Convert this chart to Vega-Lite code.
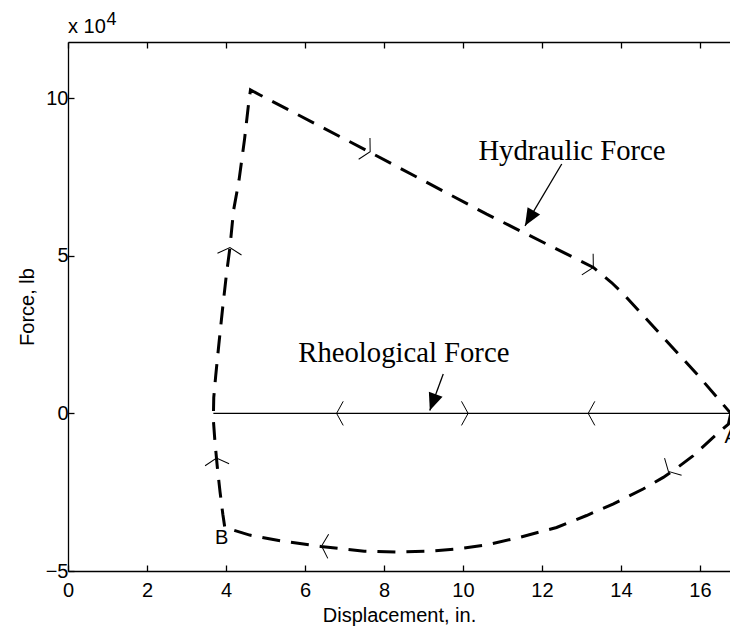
{
  "$schema": "https://vega.github.io/schema/vega-lite/v6.json",
  "width": 662,
  "height": 529,
  "autosize": "none",
  "padding": {"left": 68, "top": 42, "right": 0, "bottom": 57},
  "config": {"view": {"stroke": null}, "font": "Liberation Sans"},
  "datasets": {
    "hyd": [
      {"i": 1, "x": 16.78, "y": 0.0}, {"i": 2, "x": 16.72, "y": -0.34}, {"i": 3, "x": 16.3, "y": -0.8},
      {"i": 4, "x": 15.83, "y": -1.34}, {"i": 5, "x": 15.45, "y": -1.7}, {"i": 6, "x": 15.07, "y": -2.03},
      {"i": 7, "x": 14.56, "y": -2.4}, {"i": 8, "x": 13.81, "y": -2.87}, {"i": 9, "x": 13.13, "y": -3.24},
      {"i": 10, "x": 12.37, "y": -3.62}, {"i": 11, "x": 11.44, "y": -3.93}, {"i": 12, "x": 10.6, "y": -4.17},
      {"i": 13, "x": 9.84, "y": -4.3}, {"i": 14, "x": 9.16, "y": -4.37}, {"i": 15, "x": 8.3, "y": -4.4},
      {"i": 16, "x": 7.5, "y": -4.37}, {"i": 17, "x": 6.4, "y": -4.22}, {"i": 18, "x": 5.37, "y": -4.04},
      {"i": 19, "x": 4.6, "y": -3.86}, {"i": 20, "x": 3.97, "y": -3.62}, {"i": 21, "x": 3.92, "y": -3.2},
      {"i": 22, "x": 3.85, "y": -2.5}, {"i": 23, "x": 3.78, "y": -1.7}, {"i": 24, "x": 3.72, "y": -0.9},
      {"i": 25, "x": 3.68, "y": -0.2}, {"i": 26, "x": 3.69, "y": 0.5}, {"i": 27, "x": 3.74, "y": 1.2},
      {"i": 28, "x": 3.82, "y": 2.2}, {"i": 29, "x": 3.92, "y": 3.4}, {"i": 30, "x": 4.01, "y": 4.4},
      {"i": 31, "x": 4.1, "y": 5.26}, {"i": 32, "x": 4.19, "y": 6.43}, {"i": 33, "x": 4.33, "y": 7.4},
      {"i": 34, "x": 4.47, "y": 8.7}, {"i": 35, "x": 4.57, "y": 9.8}, {"i": 36, "x": 4.62, "y": 10.26},
      {"i": 37, "x": 4.86, "y": 10.1}, {"i": 38, "x": 7.65, "y": 8.28}, {"i": 39, "x": 10.6, "y": 6.32},
      {"i": 40, "x": 13.3, "y": 4.63}, {"i": 41, "x": 13.76, "y": 4.15}, {"i": 42, "x": 14.06, "y": 3.79},
      {"i": 43, "x": 15.07, "y": 2.41}, {"i": 44, "x": 15.92, "y": 1.25}, {"i": 45, "x": 16.78, "y": 0.0}
    ],
    "rheo": [{"x": 3.68, "x2": 16.78, "y": 0}],
    "chev": [
      {"x": 7.65, "y": 8.3, "dir": 28}, {"x": 13.3, "y": 4.63, "dir": 28},
      {"x": 15.2, "y": -1.84, "dir": 135}, {"x": 6.42, "y": -4.21, "dir": 182},
      {"x": 3.76, "y": -1.42, "dir": 265}, {"x": 4.1, "y": 5.26, "dir": 274},
      {"x": 6.8, "y": 0, "dir": 180}, {"x": 10.13, "y": 0, "dir": 0}, {"x": 13.17, "y": 0, "dir": 180}
    ],
    "arrows": [
      {"x": 12.5, "y": 7.91, "x2": 11.57, "y2": 5.95, "dir": 120.7},
      {"x": 9.5, "y": 1.25, "x2": 9.16, "y2": 0.09, "dir": 109.9}
    ],
    "serif": [
      {"x": 10.39, "y": 8.04, "t": "Hydraulic Force"},
      {"x": 5.83, "y": 1.62, "t": "Rheological Force"}
    ],
    "pts": [
      {"x": 16.62, "y": -0.93, "t": "A"},
      {"x": 3.72, "y": -4.14, "t": "B"}
    ],
    "exp": [{"x": 0, "y": 11.78, "t": "x 10", "s": "4"}]
  },
  "resolve": {"axis": {"x": "independent"}},
  "layer": [
    {
      "data": {"name": "hyd"},
      "mark": {"type": "line", "color": "black", "strokeWidth": 3, "strokeDash": [18, 11], "clip": true},
      "encoding": {
        "x": {"field": "x", "type": "quantitative", "scale": {"domain": [0, 16.76], "nice": false, "zero": false},
          "axis": {"orient": "bottom", "values": [0, 2, 4, 6, 8, 10, 12, 14, 16], "tickSize": -6, "tickWidth": 1.3,
            "tickColor": "black", "domainColor": "black", "domainWidth": 1.3, "grid": false,
            "labelFont": "Liberation Sans", "labelFontSize": 20, "labelColor": "black", "labelPadding": 15,
            "labelFlush": false, "labelOverlap": false,
            "title": "Displacement, in.", "titleFont": "Liberation Sans", "titleFontSize": 20,
            "titleFontWeight": "normal", "titleColor": "black", "titlePadding": 5}},
        "y": {"field": "y", "type": "quantitative", "scale": {"domain": [-5, 11.78], "nice": false, "zero": false},
          "axis": {"orient": "left", "values": [-5, 0, 5, 10], "tickSize": -6, "tickWidth": 1.3,
            "tickColor": "black", "domainColor": "black", "domainWidth": 1.3, "grid": false,
            "labelFont": "Liberation Sans", "labelFontSize": 20, "labelColor": "black", "labelPadding": 6,
            "labelFlush": false, "labelOverlap": false,
            "title": "Force, lb", "titleFont": "Liberation Sans", "titleFontSize": 20,
            "titleFontWeight": "normal", "titleColor": "black", "titlePadding": 8}},
        "order": {"field": "i", "type": "quantitative"}
      }
    },
    {
      "data": {"name": "rheo"},
      "mark": {"type": "rule", "color": "black", "strokeWidth": 1.3},
      "encoding": {
        "x": {"field": "x", "type": "quantitative",
          "axis": {"orient": "top", "values": [0, 2, 4, 6, 8, 10, 12, 14, 16], "tickSize": -6, "tickWidth": 1.3,
            "tickColor": "black", "domainColor": "black", "domainWidth": 1.3, "grid": false,
            "labels": false, "title": null}},
        "x2": {"field": "x2"},
        "y": {"field": "y", "type": "quantitative"}
      }
    },
    {
      "data": {"name": "chev"},
      "mark": {"type": "point", "shape": "M-0.55,-1L0,0L-0.55,1", "filled": false, "stroke": "black", "strokeWidth": 1, "opacity": 1, "size": 580},
      "encoding": {
        "x": {"field": "x", "type": "quantitative", "axis": null},
        "y": {"field": "y", "type": "quantitative"},
        "angle": {"field": "dir", "type": "quantitative", "scale": null}
      }
    },
    {
      "data": {"name": "arrows"},
      "mark": {"type": "rule", "color": "black", "strokeWidth": 1.3},
      "encoding": {
        "x": {"field": "x", "type": "quantitative", "axis": null},
        "y": {"field": "y", "type": "quantitative"},
        "x2": {"field": "x2"},
        "y2": {"field": "y2"}
      }
    },
    {
      "data": {"name": "arrows"},
      "mark": {"type": "point", "shape": "M0,0L-1,-0.42L-1,0.42Z", "filled": true, "color": "black", "opacity": 1, "size": 1200},
      "encoding": {
        "x": {"field": "x2", "type": "quantitative", "axis": null},
        "y": {"field": "y2", "type": "quantitative"},
        "angle": {"field": "dir", "type": "quantitative", "scale": null}
      }
    },
    {
      "data": {"name": "serif"},
      "mark": {"type": "text", "font": "Liberation Serif", "fontSize": 28.7, "align": "left", "baseline": "alphabetic", "color": "black"},
      "encoding": {
        "x": {"field": "x", "type": "quantitative", "axis": null},
        "y": {"field": "y", "type": "quantitative"},
        "text": {"field": "t"}
      }
    },
    {
      "data": {"name": "pts"},
      "mark": {"type": "text", "font": "Liberation Sans", "fontSize": 20, "align": "left", "baseline": "alphabetic", "color": "black"},
      "encoding": {
        "x": {"field": "x", "type": "quantitative", "axis": null},
        "y": {"field": "y", "type": "quantitative"},
        "text": {"field": "t"}
      }
    },
    {
      "data": {"name": "exp"},
      "mark": {"type": "text", "font": "Liberation Sans", "fontSize": 20, "align": "left", "baseline": "alphabetic", "color": "black", "dy": -9, "clip": false},
      "encoding": {
        "x": {"field": "x", "type": "quantitative", "axis": null},
        "y": {"field": "y", "type": "quantitative"},
        "text": {"field": "t"}
      }
    },
    {
      "data": {"name": "exp"},
      "mark": {"type": "text", "font": "Liberation Sans", "fontSize": 18, "align": "left", "baseline": "alphabetic", "color": "black", "dx": 38.5, "dy": -17, "clip": false},
      "encoding": {
        "x": {"field": "x", "type": "quantitative", "axis": null},
        "y": {"field": "y", "type": "quantitative"},
        "text": {"field": "s"}
      }
    }
  ]
}
